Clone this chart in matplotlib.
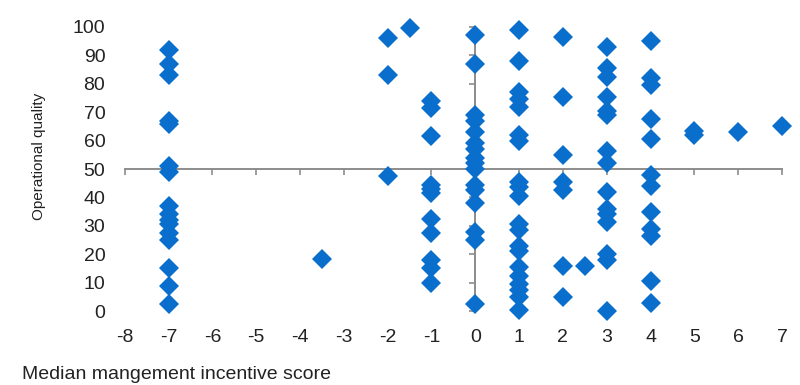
import matplotlib
matplotlib.use("Agg")
import matplotlib.pyplot as plt

# Median management incentive score per company group
incentive_score = (
    [-7] * 16 + [-3.5] + [-2] * 3 + [-1.5] + [-1] * 11 + [0] * 16
    + [1] * 20 + [2] * 7 + [2.5] + [3] * 15 + [4] * 12 + [5] * 2 + [6] + [7]
)
# Operational quality of each group
operational_quality = (
    [92, 87, 83, 67, 66, 51, 49, 37, 34, 32, 30.5, 27.5, 25, 15, 9, 2.5]
    + [18.5]
    + [96, 83, 47.5]
    + [99.8]
    + [74, 71.5, 61.5, 44.5, 43, 41.5, 32.5, 27.5, 18, 15, 10]
    + [97, 87, 69, 67, 63, 59, 57, 54, 52, 50, 44.5, 42.5, 38, 28, 25, 2.5]
    + [99, 88, 77, 74.5, 72, 62, 60, 45.5, 43.5, 40.5, 30.5, 28.5, 23, 21,
       15.5, 12.5, 9.5, 7.5, 5, 0.5]
    + [96.5, 75.5, 55, 45.5, 42.5, 16, 5]
    + [16]
    + [93, 85.5, 82.5, 75.5, 70.5, 69, 56.5, 52, 42, 36, 34, 31.5, 20, 18, 0]
    + [95, 82, 79.5, 67.5, 60.5, 48, 44, 35, 29, 26.5, 10.5, 3]
    + [63.5, 62]
    + [63]
    + [65]
)

x_ticks = list(range(-8, 8))
y_ticks = list(range(0, 101, 10))

plt.rcParams["font.family"] = ["Liberation Sans", "DejaVu Sans"]
plt.rcParams["axes.unicode_minus"] = False
text_col = "#222222"

fig = plt.figure(figsize=(8.0, 3.85), dpi=100)
ax = fig.add_axes([0.156, 0.192, 0.8215, 0.738])

ax.plot(incentive_score, operational_quality, linestyle="none", marker="D",
        markersize=9.8, color="#0A6FCC", markeredgewidth=0, clip_on=False,
        zorder=3)

ax.set_xlim(-8, 7)
ax.set_ylim(0, 100)

axis_grey = "#8C8C8C"
# Axis lines cross at score 0 and quality 50
for side in ("top", "right"):
    ax.spines[side].set_visible(False)
ax.spines["left"].set_position(("data", 0))
ax.spines["bottom"].set_position(("data", 50))
for side in ("left", "bottom"):
    ax.spines[side].set_color(axis_grey)
    ax.spines[side].set_linewidth(1.4)
    ax.spines[side].set_zorder(2)

ax.set_xticks(x_ticks)
ax.set_yticks(y_ticks)
ax.tick_params(axis="both", which="major", direction="out", length=4.5,
               width=1.2, color=axis_grey, labelleft=False,
               labelbottom=False)

# Tick labels sit at the outer edges of the plot area
ylab = ax.secondary_yaxis("left")
ylab.set_yticks(y_ticks)
ylab.spines["left"].set_visible(False)
ylab.tick_params(length=0, pad=14, labelsize=14, labelcolor=text_col)

xlab = ax.secondary_xaxis("bottom")
xlab.set_xticks(x_ticks)
xlab.spines["bottom"].set_visible(False)
xlab.tick_params(length=0, pad=13, labelsize=14, labelcolor=text_col)

fig.text(0.049, 0.595, "Operational quality", rotation=90, ha="center",
         va="center", fontsize=11, color=text_col)
fig.text(0.027, 0.028, "Median mangement incentive score", ha="left",
         va="center", fontsize=14, color=text_col)

fig.savefig("out.png", dpi=100)
